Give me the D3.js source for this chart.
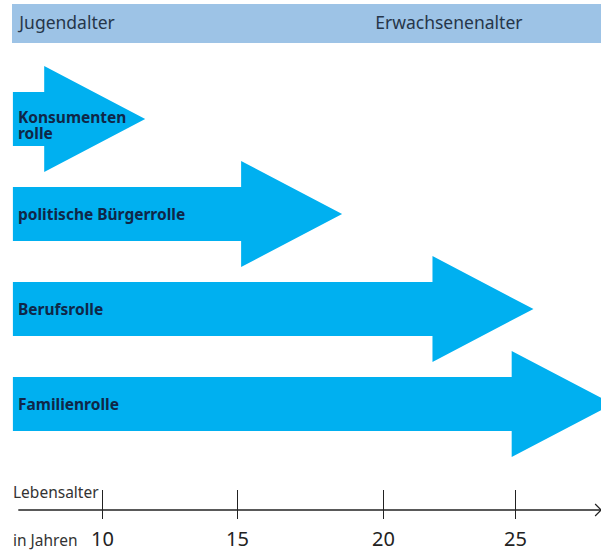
<!DOCTYPE html>
<html lang="de">
<head>
    <meta charset="UTF-8">
    <title>Rollen im Lebensalter</title>
    <script src="https://cdnjs.cloudflare.com/ajax/libs/d3/7.8.5/d3.min.js"></script>
    <style>
        body {
            margin: 0;
            background-color: #fff;
        }
        svg {
            display: block;
            font-family: "Noto Sans", sans-serif;
        }
    </style>
</head>
<body>
    <svg id="chart"></svg>
    <script>
        // Data (ages in years)
        const roles = ["Konsumentenrolle", "politische Bürgerrolle", "Berufsrolle", "Familienrolle"];
        const roleLines = [["Konsumenten", "rolle"], ["politische Bürgerrolle"], ["Berufsrolle"], ["Familienrolle"]];
        const roleStart = [6.7, 6.7, 6.7, 6.7];
        const roleEnd = [11.6, 18.6, 25.7, 28.7];

        const phases = ["Jugendalter", "Erwachsenenalter"];
        const phaseStart = [6.9, 19.7];

        const tickAges = [10, 15, 20, 25];
        const tickPos = [102, 237, 383, 515];
        const axisExtent = [6.9, 28.3];

        const width = 601;
        const height = 551;

        const svg = d3.select("#chart")
            .attr("width", width)
            .attr("height", height);

        // the printed axis is not evenly spaced, so use a piecewise scale
        const x = d3.scaleLinear()
            .domain(tickAges)
            .range(tickPos);

        const y = d3.scalePoint()
            .domain(roles)
            .range([119, 404]);

        const bodyHalf = 27;
        const headHalf = 53;
        const headLen = 101;

        // Top band
        svg.append("rect")
            .attr("x", 12)
            .attr("y", 4)
            .attr("width", width - 12)
            .attr("height", 39)
            .attr("fill", "#9dc3e6");

        svg.append("g")
            .selectAll("text")
            .data(phases)
            .join("text")
            .attr("x", (d, i) => x(phaseStart[i]) + 1)
            .attr("y", 29)
            .attr("font-size", 17.5)
            .attr("fill", "#26364a")
            .text(d => d);

        // Arrows
        const arrowPath = (i) => {
            const x0 = x(roleStart[i]);
            const x1 = x(roleEnd[i]);
            const xb = x1 - headLen;
            const cy = y(roles[i]);
            return `M${x0},${cy - bodyHalf}H${xb}V${cy - headHalf}L${x1},${cy}L${xb},${cy + headHalf}V${cy + bodyHalf}H${x0}Z`;
        };

        svg.append("g")
            .selectAll("path")
            .data(roles)
            .join("path")
            .attr("d", (d, i) => arrowPath(i))
            .attr("fill", "#00b0f0");

        const labels = svg.append("g")
            .attr("font-weight", "bold")
            .attr("font-size", 15.5)
            .attr("fill", "#0f2748")
            .selectAll("text")
            .data(roles)
            .join("text")
            .attr("x", 18)
            .attr("y", (d, i) => y(d) + (roleLines[i].length > 1 ? 4 : 6));

        labels.selectAll("tspan")
            .data((d, i) => roleLines[i])
            .join("tspan")
            .attr("x", 18)
            .attr("dy", (d, j) => j === 0 ? 0 : 16)
            .text(d => d);

        // Age axis
        const axisY = 510;

        svg.append("line")
            .attr("x1", x(axisExtent[0]))
            .attr("x2", x(axisExtent[1]) - 1)
            .attr("y1", axisY)
            .attr("y2", axisY)
            .attr("stroke", "#222")
            .attr("stroke-width", 1.5);

        svg.append("path")
            .attr("d", `M${x(axisExtent[1]) - 7},${axisY - 6}L${x(axisExtent[1]) - 1},${axisY}L${x(axisExtent[1]) - 7},${axisY + 6}`)
            .attr("fill", "none")
            .attr("stroke", "#222")
            .attr("stroke-width", 1.2);

        const axis = svg.append("g")
            .attr("transform", `translate(0,${axisY})`)
            .call(d3.axisBottom(x).tickValues(tickAges).tickSize(9).tickPadding(13));

        axis.select(".domain").remove();
        axis.selectAll(".tick line")
            .attr("y1", -20)
            .attr("stroke", "#222");
        axis.selectAll(".tick text")
            .attr("font-family", "Noto Sans, sans-serif")
            .attr("font-size", 20)
            .attr("fill", "#222");

        svg.append("text")
            .attr("x", 13)
            .attr("y", 498)
            .attr("font-size", 15.5)
            .attr("fill", "#333")
            .text("Lebensalter");

        svg.append("text")
            .attr("x", 13)
            .attr("y", 546)
            .attr("font-size", 15.5)
            .attr("fill", "#333")
            .text("in Jahren");
    </script>
</body>
</html>
